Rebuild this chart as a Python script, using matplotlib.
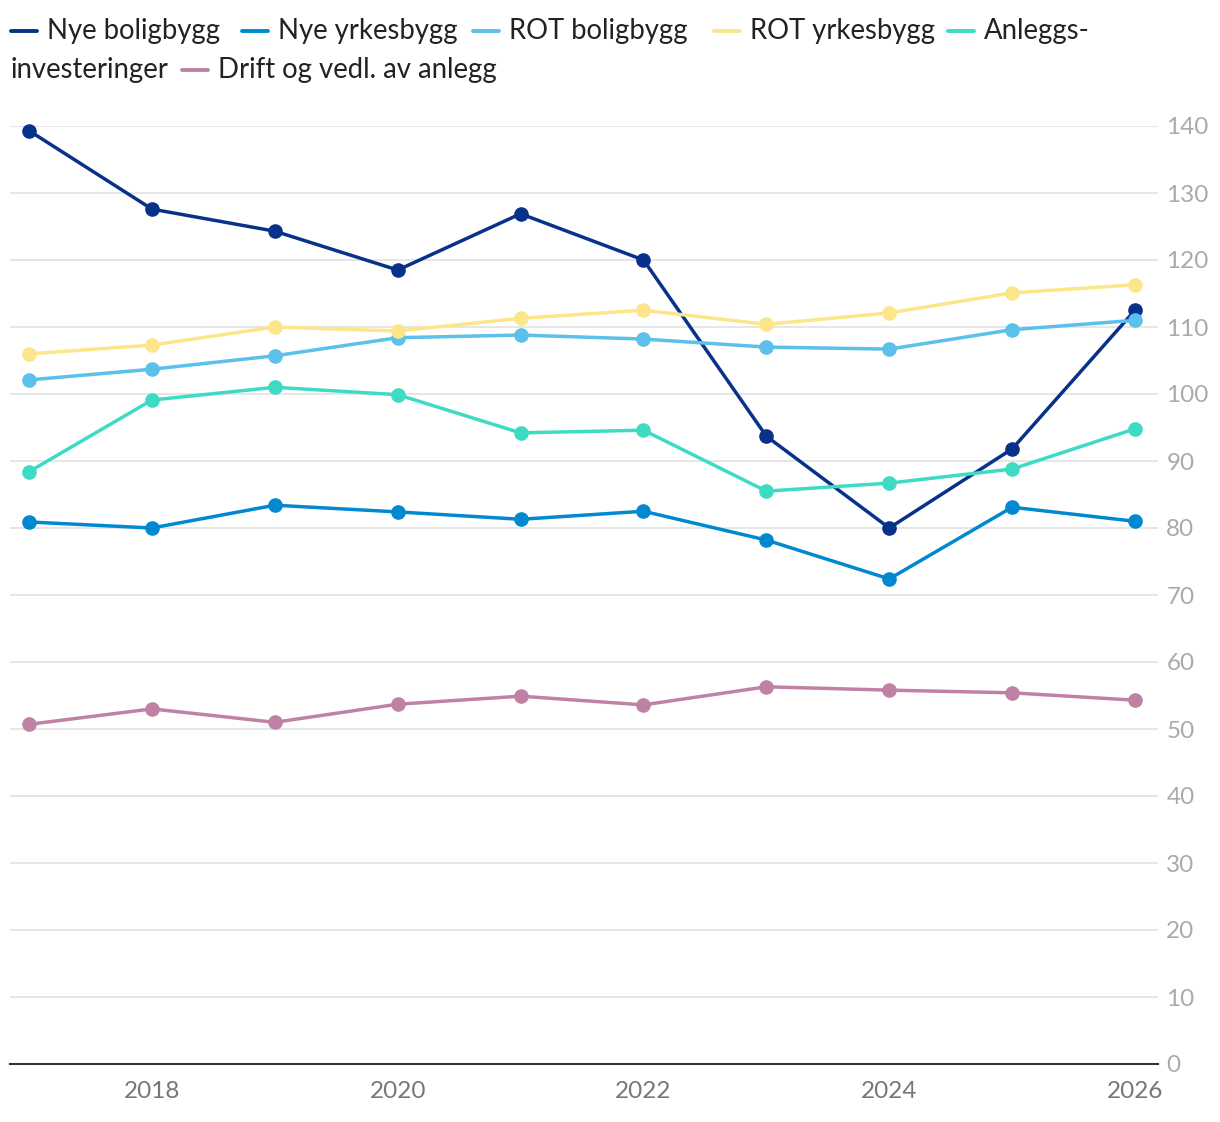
import numpy as np
import matplotlib
matplotlib.use("Agg")
import matplotlib.pyplot as plt
from matplotlib.lines import Line2D

plt.rcParams['font.family'] = ['Lato', 'DejaVu Sans']

## DATA
years = np.arange(2017, 2027)

nye_bolig = [139.3, 127.6, 124.3, 118.5, 126.9, 120.0, 93.7, 80.0, 91.8, 112.5]
nye_yrkes = [80.9, 80.0, 83.4, 82.4, 81.3, 82.5, 78.2, 72.4, 83.1, 81.0]
rot_bolig = [102.1, 103.7, 105.7, 108.4, 108.8, 108.2, 107.0, 106.7, 109.6, 111.0]
rot_yrkes = [106.0, 107.3, 110.0, 109.4, 111.3, 112.5, 110.4, 112.1, 115.1, 116.3]
anlegg = [88.4, 99.1, 101.0, 99.9, 94.2, 94.6, 85.5, 86.7, 88.8, 94.8]
drift = [50.7, 53.0, 51.0, 53.7, 54.9, 53.6, 56.3, 55.8, 55.4, 54.3]

labels = ["Nye boligbygg", "Nye yrkesbygg", "ROT boligbygg", "ROT yrkesbygg",
          "Anleggs-\ninvesteringer", "Drift og vedl. av anlegg"]
colors = ["#08318a", "#0089d0", "#5bc0ea", "#fde58a", "#3ddbc3", "#bf82a4"]
series = [nye_bolig, nye_yrkes, rot_bolig, rot_yrkes, anlegg, drift]

yticks = np.arange(0, 141, 10)
xticks = [2018, 2020, 2022, 2024, 2026]

## FIGURE
fig = plt.figure(figsize=(12.2, 11.22), dpi=100)
ax = fig.add_axes([10/1220, 1 - 1064/1122, 1148/1220, (1064 - 126)/1122])

for vals, col in zip(series, colors):
    ax.plot(years, vals, color=col, lw=2.5, marker='o', ms=9.5,
            clip_on=False, zorder=3)

ax.set_xlim(2016.845, 2026.187)
ax.set_ylim(0, 140)
ax.set_yticks(yticks)
ax.set_xticks(xticks)
ax.yaxis.tick_right()
ax.grid(axis='y', color='#e4e4e4', lw=1.3)
ax.grid(axis='x', visible=False)
ax.set_axisbelow(True)
for s in ['top', 'left', 'right']:
    ax.spines[s].set_visible(False)
ax.spines['bottom'].set_color('#333333')
ax.spines['bottom'].set_linewidth(1.5)
ax.tick_params(axis='y', length=0, pad=6, labelsize=17.5, labelcolor='#aaaaaa')
ax.tick_params(axis='x', length=0, pad=12, labelsize=17.5, labelcolor='#777777')

## LEGEND (manual, wraps like the original)
def legend_item(x0, y, col, text):
    fig.add_artist(Line2D([(x0 + 1)/1220, (x0 + 27)/1220], [1 - y/1122, 1 - y/1122],
                          color=col, lw=2.8, solid_capstyle='round'))
    fig.text((x0 + 37)/1220, 1 - y/1122, text, fontsize=19.8, color='#222222',
             va='center', ha='left')

legend_item(10, 31, colors[0], labels[0])
legend_item(241, 31, colors[1], labels[1])
legend_item(472, 31, colors[2], labels[2])
legend_item(713, 31, colors[3], labels[3])
legend_item(947, 31, colors[4], "Anleggs-")
fig.text(10/1220, 1 - 70/1122, "investeringer", fontsize=19.8, color='#222222',
         va='center', ha='left')
legend_item(181, 70, colors[5], labels[5])

fig.savefig("out.png", dpi=100)
